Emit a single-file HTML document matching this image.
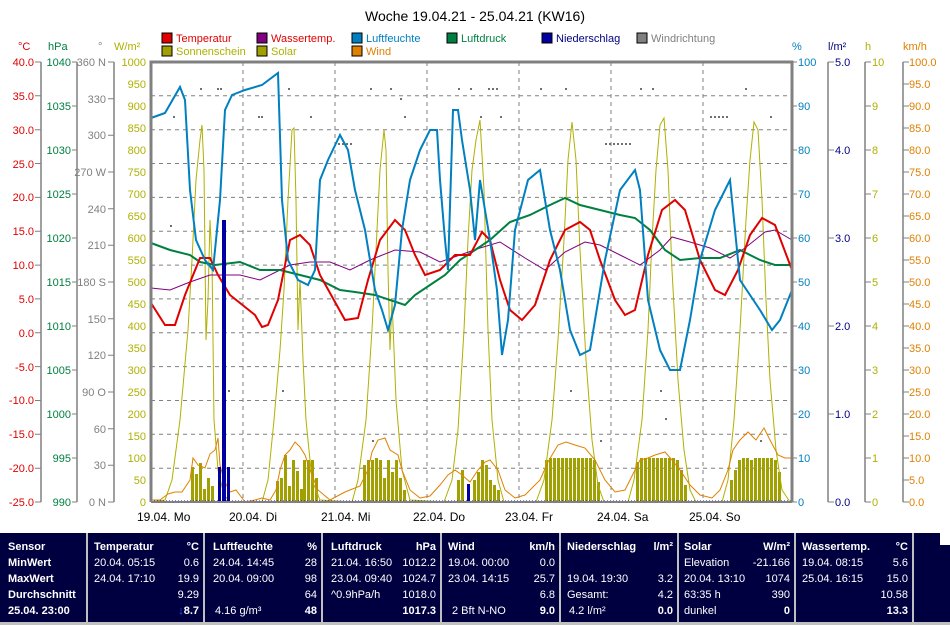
<!DOCTYPE html>
<html><head><meta charset="utf-8"><style>
body{margin:0;background:#fff;width:950px;height:625px;overflow:hidden;font-family:"Liberation Sans",sans-serif}
svg text{font-family:"Liberation Sans",sans-serif;font-size:11px}
.tb{position:absolute;left:0;top:533px;width:940px;height:89px;background:#000040;color:#fff;font-size:11px}
.col{position:absolute;top:0;height:89px;border-right:2px solid #c0c0c0}
.r{position:absolute;white-space:nowrap}
</style></head><body>
<svg width="950" height="533" style="position:absolute;left:0;top:0">
<text x="475" y="21" text-anchor="middle" style="font-size:14px" fill="#000">Woche 19.04.21 - 25.04.21 (KW16)</text>
<!-- legend -->
<g>
<rect x="162" y="33" width="10" height="10" fill="#e00000" stroke="#000"/><text x="176" y="42" fill="#e00000">Temperatur</text>
<rect x="257" y="33" width="10" height="10" fill="#800080" stroke="#000"/><text x="271" y="42" fill="#e00000">Wassertemp.</text>
<rect x="352" y="33" width="10" height="10" fill="#0080c0" stroke="#000"/><text x="366" y="42" fill="#0080c0">Luftfeuchte</text>
<rect x="447" y="33" width="10" height="10" fill="#008040" stroke="#000"/><text x="461" y="42" fill="#008040">Luftdruck</text>
<rect x="542" y="33" width="10" height="10" fill="#0000a0" stroke="#000"/><text x="556" y="42" fill="#000080">Niederschlag</text>
<rect x="637" y="33" width="10" height="10" fill="#808080" stroke="#000"/><text x="651" y="42" fill="#808080">Windrichtung</text>
<rect x="162" y="46" width="10" height="10" fill="#a0a000" stroke="#000"/><text x="176" y="55" fill="#b0b000">Sonnenschein</text>
<rect x="257" y="46" width="10" height="10" fill="#a0a000" stroke="#000"/><text x="271" y="55" fill="#b0b000">Solar</text>
<rect x="352" y="46" width="10" height="10" fill="#e08000" stroke="#000"/><text x="366" y="55" fill="#e08000">Wind</text>
</g>
<!-- units -->
<text x="18" y="50" fill="#e00000">°C</text><text x="48" y="50" fill="#008040">hPa</text><text x="98" y="50" fill="#808080">°</text><text x="114" y="50" fill="#b0b000">W/m²</text>
<text x="792" y="50" fill="#0080c0">%</text><text x="828" y="50" fill="#000080">l/m²</text><text x="865" y="50" fill="#b0b000">h</text><text x="903" y="50" fill="#e08000">km/h</text>
<!-- axis lines -->
<g stroke="#808080" stroke-width="1.5">
<line x1="41" y1="62" x2="41" y2="502"/><line x1="77" y1="62" x2="77" y2="502"/><line x1="114" y1="62" x2="114" y2="502"/>
<line x1="828" y1="62" x2="828" y2="502"/><line x1="865" y1="62" x2="865" y2="502"/><line x1="903" y1="62" x2="903" y2="502"/>
</g>
<!-- °C -->
<g fill="#e00000" text-anchor="end">
<text x="34" y="66">40.0</text><text x="34" y="100">35.0</text><text x="34" y="134">30.0</text><text x="34" y="168">25.0</text><text x="34" y="201">20.0</text><text x="34" y="235">15.0</text><text x="34" y="269">10.0</text><text x="34" y="303">5.0</text><text x="34" y="337">0.0</text><text x="34" y="371">-5.0</text><text x="34" y="404">-10.0</text><text x="34" y="438">-15.0</text><text x="34" y="472">-20.0</text><text x="34" y="506">-25.0</text>
</g>
<g stroke="#808080"><path d="M35 62h6M35 95.8h6M35 129.7h6M35 163.5h6M35 197.4h6M35 231.2h6M35 265.1h6M35 298.9h6M35 332.8h6M35 366.6h6M35 400.5h6M35 434.3h6M35 468.2h6M35 502h6"/></g>
<!-- hPa -->
<g fill="#008040" text-anchor="end">
<text x="71" y="66">1040</text><text x="71" y="110">1035</text><text x="71" y="154">1030</text><text x="71" y="198">1025</text><text x="71" y="242">1020</text><text x="71" y="286">1015</text><text x="71" y="330">1010</text><text x="71" y="374">1005</text><text x="71" y="418">1000</text><text x="71" y="462">995</text><text x="71" y="506">990</text>
</g>
<g stroke="#808080"><path d="M72 62h5M72 106h5M72 150h5M72 194h5M72 238h5M72 282h5M72 326h5M72 370h5M72 414h5M72 458h5M72 502h5"/></g>
<!-- degrees -->
<g fill="#808080" text-anchor="end">
<text x="106" y="66">360 N</text><text x="106" y="103">330</text><text x="106" y="139">300</text><text x="106" y="176">270 W</text><text x="106" y="213">240</text><text x="106" y="249">210</text><text x="106" y="286">180 S</text><text x="106" y="323">150</text><text x="106" y="359">120</text><text x="106" y="396">90 O</text><text x="106" y="433">60</text><text x="106" y="469">30</text><text x="106" y="506">0 N</text>
</g>
<g stroke="#808080"><path d="M108 62h6M108 98.7h6M108 135.3h6M108 172h6M108 208.7h6M108 245.3h6M108 282h6M108 318.7h6M108 355.3h6M108 392h6M108 428.7h6M108 465.3h6M108 502h6"/></g>
<!-- W/m2 -->
<g fill="#b0b000" text-anchor="end">
<text x="146" y="66">1000</text><text x="146" y="88">950</text><text x="146" y="110">900</text><text x="146" y="132">850</text><text x="146" y="154">800</text><text x="146" y="176">750</text><text x="146" y="198">700</text><text x="146" y="220">650</text><text x="146" y="242">600</text><text x="146" y="264">550</text><text x="146" y="286">500</text><text x="146" y="308">450</text><text x="146" y="330">400</text><text x="146" y="352">350</text><text x="146" y="374">300</text><text x="146" y="396">250</text><text x="146" y="418">200</text><text x="146" y="440">150</text><text x="146" y="462">100</text><text x="146" y="484">50</text><text x="146" y="506">0</text>
</g>
<!-- % -->
<g fill="#0080c0"><text x="798" y="66">100</text><text x="798" y="110">90</text><text x="798" y="154">80</text><text x="798" y="198">70</text><text x="798" y="242">60</text><text x="798" y="286">50</text><text x="798" y="330">40</text><text x="798" y="374">30</text><text x="798" y="418">20</text><text x="798" y="462">10</text><text x="798" y="506">0</text></g>
<g stroke="#808080"><path d="M792 62h5M792 106h5M792 150h5M792 194h5M792 238h5M792 282h5M792 326h5M792 370h5M792 414h5M792 458h5M792 502h5"/></g>
<!-- l/m2 -->
<g fill="#000080"><text x="835" y="66">5.0</text><text x="835" y="154">4.0</text><text x="835" y="242">3.0</text><text x="835" y="330">2.0</text><text x="835" y="418">1.0</text><text x="835" y="506">0.0</text></g>
<g stroke="#808080"><path d="M828 62h6M828 150h6M828 238h6M828 326h6M828 414h6M828 502h6"/></g>
<!-- h -->
<g fill="#b0b000"><text x="872" y="66">10</text><text x="872" y="110">9</text><text x="872" y="154">8</text><text x="872" y="198">7</text><text x="872" y="242">6</text><text x="872" y="286">5</text><text x="872" y="330">4</text><text x="872" y="374">3</text><text x="872" y="418">2</text><text x="872" y="462">1</text><text x="872" y="506">0</text></g>
<g stroke="#808080"><path d="M865 62h6M865 106h6M865 150h6M865 194h6M865 238h6M865 282h6M865 326h6M865 370h6M865 414h6M865 458h6M865 502h6"/></g>
<!-- km/h -->
<g fill="#e08000"><text x="909" y="66">100.0</text><text x="909" y="88">95.0</text><text x="909" y="110">90.0</text><text x="909" y="132">85.0</text><text x="909" y="154">80.0</text><text x="909" y="176">75.0</text><text x="909" y="198">70.0</text><text x="909" y="220">65.0</text><text x="909" y="242">60.0</text><text x="909" y="264">55.0</text><text x="909" y="286">50.0</text><text x="909" y="308">45.0</text><text x="909" y="330">40.0</text><text x="909" y="352">35.0</text><text x="909" y="374">30.0</text><text x="909" y="396">25.0</text><text x="909" y="418">20.0</text><text x="909" y="440">15.0</text><text x="909" y="462">10.0</text><text x="909" y="484">5.0</text><text x="909" y="506">0.0</text></g>
<g stroke="#808080"><path d="M903 62h6M903 84h6M903 106h6M903 128h6M903 150h6M903 172h6M903 194h6M903 216h6M903 238h6M903 260h6M903 282h6M903 304h6M903 326h6M903 348h6M903 370h6M903 392h6M903 414h6M903 436h6M903 458h6M903 480h6M903 502h6"/></g>
<!-- grid -->
<g stroke="#808080" stroke-dasharray="4,4">
<path d="M151 95.8H792M151 129.7H792M151 163.5H792M151 197.4H792M151 231.2H792M151 265.1H792M151 298.9H792M151 332.8H792M151 366.6H792M151 400.5H792M151 434.3H792M151 468.2H792"/>
<path d="M243 62V502M335 62V502M427 62V502M519 62V502M611 62V502M703 62V502"/>
</g>
<!-- wind direction dots -->
<g fill="#707070">
<rect x="173" y="116" width="2" height="2"/><rect x="200" y="88" width="2" height="2"/><rect x="217" y="88" width="2" height="2"/><rect x="220" y="88" width="2" height="2"/><rect x="258" y="116" width="2" height="2"/><rect x="261" y="116" width="2" height="2"/><rect x="288" y="88" width="2" height="2"/><rect x="310" y="116" width="2" height="2"/><rect x="338" y="143" width="2" height="2"/><rect x="342" y="143" width="2" height="2"/><rect x="346" y="143" width="2" height="2"/><rect x="350" y="143" width="2" height="2"/><rect x="370" y="88" width="2" height="2"/><rect x="390" y="88" width="2" height="2"/><rect x="400" y="98" width="2" height="2"/><rect x="404" y="116" width="2" height="2"/><rect x="458" y="88" width="2" height="2"/><rect x="470" y="88" width="2" height="2"/><rect x="480" y="116" width="2" height="2"/><rect x="488" y="88" width="2" height="2"/><rect x="492" y="88" width="2" height="2"/><rect x="496" y="88" width="2" height="2"/><rect x="500" y="116" width="2" height="2"/><rect x="540" y="88" width="2" height="2"/><rect x="565" y="88" width="2" height="2"/><rect x="605" y="143" width="2" height="2"/><rect x="609" y="143" width="2" height="2"/><rect x="613" y="143" width="2" height="2"/><rect x="617" y="143" width="2" height="2"/><rect x="621" y="143" width="2" height="2"/><rect x="625" y="143" width="2" height="2"/><rect x="629" y="143" width="2" height="2"/><rect x="640" y="88" width="2" height="2"/><rect x="652" y="88" width="2" height="2"/><rect x="710" y="116" width="2" height="2"/><rect x="714" y="116" width="2" height="2"/><rect x="718" y="116" width="2" height="2"/><rect x="722" y="116" width="2" height="2"/><rect x="726" y="116" width="2" height="2"/><rect x="745" y="88" width="2" height="2"/><rect x="770" y="116" width="2" height="2"/>
<rect x="170" y="225" width="2" height="2"/><rect x="282" y="390" width="2" height="2"/><rect x="228" y="390" width="2" height="2"/><rect x="660" y="390" width="2" height="2"/><rect x="665" y="418" width="2" height="2"/><rect x="570" y="390" width="2" height="2"/><rect x="600" y="440" width="2" height="2"/><rect x="372" y="440" width="2" height="2"/><rect x="760" y="440" width="2" height="2"/>
</g>
<!-- sunshine bars -->
<g fill="#a0a000">
<rect x="191" y="467" width="3" height="35"/><rect x="195" y="474" width="3" height="28"/><rect x="199" y="463" width="3" height="39"/><rect x="203" y="489" width="3" height="13"/><rect x="207" y="478" width="3" height="24"/><rect x="211" y="486" width="3" height="16"/>
<rect x="276" y="481" width="3" height="21"/><rect x="280" y="478" width="3" height="24"/><rect x="284" y="455" width="3" height="47"/><rect x="288" y="486" width="3" height="16"/><rect x="292" y="460" width="3" height="42"/><rect x="296" y="471" width="3" height="31"/><rect x="300" y="489" width="3" height="13"/><rect x="303" y="460" width="3" height="42"/><rect x="307" y="460" width="3" height="42"/><rect x="311" y="460" width="3" height="42"/><rect x="315" y="478" width="3" height="24"/>
<rect x="363" y="465" width="3" height="37"/><rect x="367" y="460" width="3" height="42"/><rect x="371" y="460" width="3" height="42"/><rect x="375" y="458" width="3" height="44"/><rect x="379" y="460" width="3" height="42"/><rect x="383" y="478" width="3" height="24"/><rect x="387" y="460" width="3" height="42"/><rect x="391" y="472" width="3" height="30"/><rect x="395" y="460" width="3" height="42"/><rect x="399" y="478" width="3" height="24"/><rect x="403" y="490" width="3" height="12"/>
<rect x="457" y="480" width="3" height="22"/><rect x="461" y="470" width="3" height="32"/><rect x="473" y="480" width="3" height="22"/><rect x="477" y="472" width="3" height="30"/><rect x="481" y="460" width="3" height="42"/><rect x="485" y="465" width="3" height="37"/><rect x="489" y="480" width="3" height="22"/><rect x="493" y="485" width="3" height="17"/><rect x="497" y="490" width="3" height="12"/>
<rect x="545" y="460" width="3" height="42"/><rect x="549" y="458" width="3" height="44"/><rect x="553" y="458" width="3" height="44"/><rect x="557" y="458" width="3" height="44"/><rect x="561" y="458" width="3" height="44"/><rect x="565" y="458" width="3" height="44"/><rect x="569" y="458" width="3" height="44"/><rect x="573" y="458" width="3" height="44"/><rect x="577" y="458" width="3" height="44"/><rect x="581" y="458" width="3" height="44"/><rect x="585" y="458" width="3" height="44"/><rect x="589" y="458" width="3" height="44"/><rect x="593" y="460" width="3" height="42"/><rect x="597" y="482" width="3" height="20"/>
<rect x="636" y="462" width="3" height="40"/><rect x="640" y="458" width="3" height="44"/><rect x="644" y="458" width="3" height="44"/><rect x="648" y="458" width="3" height="44"/><rect x="652" y="458" width="3" height="44"/><rect x="656" y="458" width="3" height="44"/><rect x="660" y="458" width="3" height="44"/><rect x="664" y="458" width="3" height="44"/><rect x="668" y="458" width="3" height="44"/><rect x="672" y="458" width="3" height="44"/><rect x="676" y="460" width="3" height="42"/><rect x="680" y="470" width="3" height="32"/><rect x="684" y="485" width="3" height="17"/>
<rect x="730" y="480" width="3" height="22"/><rect x="734" y="470" width="3" height="32"/><rect x="738" y="460" width="3" height="42"/><rect x="742" y="458" width="3" height="44"/><rect x="746" y="458" width="3" height="44"/><rect x="750" y="460" width="3" height="42"/><rect x="754" y="458" width="3" height="44"/><rect x="758" y="458" width="3" height="44"/><rect x="762" y="458" width="3" height="44"/><rect x="766" y="458" width="3" height="44"/><rect x="770" y="458" width="3" height="44"/><rect x="774" y="460" width="3" height="42"/><rect x="778" y="472" width="3" height="30"/>
</g>
<!-- solar -->
<polyline fill="none" stroke="#b0b000" stroke-width="1" points="151,502 165,500 172,480 180,420 188,330 192,260 196,180 200,140 202,125 204,170 206,340 208,300 210,220 212,260 214,420 218,470 224,495 230,502 262,502 268,480 274,420 280,350 284,290 288,200 292,130 294,128 296,200 298,330 300,280 303,360 306,420 312,480 320,500 352,502 358,480 366,420 372,330 376,250 380,170 384,130 386,150 388,270 390,350 392,300 396,400 402,470 410,500 444,502 452,480 458,430 464,330 468,240 472,170 476,140 480,120 484,190 488,330 492,420 498,480 504,502 536,502 544,480 552,420 558,340 564,240 568,160 572,122 576,160 580,250 586,360 592,440 598,485 604,502 628,502 634,480 642,420 648,330 652,240 656,170 660,125 664,118 668,170 672,270 678,380 684,450 690,490 696,502 722,502 728,480 734,420 740,330 746,220 750,160 754,122 758,130 762,200 766,300 770,380 776,450 782,490 790,502"/>
<!-- wind -->
<polyline fill="none" stroke="#e08000" stroke-width="1" points="151,500 160,500 168,494 175,492 182,492 190,480 193,458 198,465 205,468 210,454 215,450 218,438 220,465 224,480 230,492 236,490 245,502 255,500 262,498 270,500 276,490 280,470 285,455 290,450 295,442 300,447 305,455 310,470 318,490 330,500 345,492 360,486 368,470 372,452 378,440 385,438 390,450 398,455 402,470 410,490 420,498 430,496 440,485 448,475 455,470 462,475 470,482 478,470 485,462 490,460 498,470 505,490 515,498 525,495 540,480 548,462 552,455 558,445 566,442 575,445 585,448 595,460 605,480 615,492 625,490 635,470 640,460 648,458 655,455 665,452 672,460 680,470 690,485 700,495 712,498 720,490 728,470 733,450 740,440 748,432 756,440 764,428 770,440 778,455 785,458 792,458"/>
<!-- water temp -->
<polyline fill="none" stroke="#800080" stroke-width="1" points="151,288 170,290 190,282 210,275 240,275 260,280 290,265 310,262 330,262 350,270 370,260 395,250 420,252 440,262 460,255 480,248 500,242 525,258 545,270 565,252 585,242 600,245 620,255 640,265 660,250 672,237 690,242 710,248 730,258 745,248 765,232 775,230 792,240"/>
<!-- pressure -->
<polyline fill="none" stroke="#008040" stroke-width="2" points="151,243 170,250 190,255 200,262 215,265 240,262 260,270 280,270 300,275 320,280 340,290 355,292 375,295 390,300 405,305 415,295 430,285 445,275 460,260 475,250 490,240 510,222 530,215 550,205 565,198 580,205 600,210 620,215 635,218 650,230 665,250 680,260 700,258 720,258 740,250 760,260 775,265 792,265"/>
<!-- temperature -->
<polyline fill="none" stroke="#e00000" stroke-width="2" points="151,303 165,325 175,325 185,295 200,258 210,258 218,275 230,295 255,315 262,327 268,325 278,300 290,240 300,235 310,245 320,275 345,320 358,318 368,280 380,240 395,220 405,230 415,255 425,275 440,270 455,255 470,255 482,232 490,240 500,280 510,310 522,320 535,305 550,260 565,230 580,222 590,230 600,260 615,300 625,315 635,310 648,255 662,210 675,200 685,210 700,260 715,290 725,295 738,270 750,235 762,218 775,225 792,270"/>
<!-- humidity -->
<polyline fill="none" stroke="#0080c0" stroke-width="2" points="151,118 165,113 180,87 185,100 190,190 196,240 205,260 213,270 220,200 225,110 232,95 245,90 262,85 278,73 282,200 288,260 298,280 308,285 315,270 320,180 328,160 340,135 348,150 355,190 365,230 375,290 382,310 388,330 395,305 402,230 410,180 420,150 430,130 437,130 440,180 445,240 448,270 453,110 458,110 462,140 470,190 475,240 480,180 490,240 497,290 502,355 508,320 515,230 528,180 540,170 545,200 550,230 560,270 570,330 580,355 590,350 595,320 605,260 620,190 635,170 640,190 648,300 660,350 670,370 680,370 690,320 700,260 715,210 730,180 740,280 760,310 772,330 780,320 792,290"/>
<!-- rain -->
<g fill="#0000a0">
<rect x="218" y="467" width="3" height="35"/><rect x="222" y="220" width="4" height="282"/><rect x="227" y="467" width="3" height="35"/><rect x="467" y="484" width="3" height="18"/>
</g>
<line x1="151" y1="501" x2="792" y2="501" stroke="#0000a0" stroke-dasharray="1,2"/>
<!-- border -->
<path d="M151 502V62H792V502" fill="none" stroke="#808080" stroke-width="3"/>
<line x1="151" y1="502" x2="792" y2="502" stroke="#808080" stroke-width="2"/>
<!-- x labels -->
<g fill="#000" style="font-size:12px">
<text x="137" y="521" style="font-size:12px">19.04.  Mo</text><text x="229" y="521" style="font-size:12px">20.04.  Di</text><text x="321" y="521" style="font-size:12px">21.04.  Mi</text><text x="413" y="521" style="font-size:12px">22.04.  Do</text><text x="505" y="521" style="font-size:12px">23.04.  Fr</text><text x="597" y="521" style="font-size:12px">24.04.  Sa</text><text x="689" y="521" style="font-size:12px">25.04.  So</text>
</g>
</svg>
<div style="position:absolute;left:0;top:622px;width:950px;height:3px;background:#c0c0c0"></div>
<div class="tb">
<div class="col" style="left:0;width:86px"><b class="r" style="left:8px;top:8px">Sensor</b><b class="r" style="left:8px;top:24px">MinWert</b><b class="r" style="left:8px;top:40px">MaxWert</b><b class="r" style="left:8px;top:56px">Durchschnitt</b><b class="r" style="left:8px;top:72px">25.04. 23:00</b></div>
<div class="col" style="left:88px;width:115px"><b class="r" style="left:6px;top:8px">Temperatur</b><b class="r" style="right:4px;top:8px">°C</b><span class="r" style="left:6px;top:24px">20.04. 05:15</span><span class="r" style="right:4px;top:24px">0.6</span><span class="r" style="left:6px;top:40px">24.04. 17:10</span><span class="r" style="right:4px;top:40px">19.9</span><span class="r" style="right:4px;top:56px">9.29</span><b class="r" style="right:4px;top:72px"><span style="color:#2060ff">↓</span>8.7</b></div>
<div class="col" style="left:205px;width:116px"><b class="r" style="left:8px;top:8px">Luftfeuchte</b><b class="r" style="right:4px;top:8px">%</b><span class="r" style="left:8px;top:24px">24.04. 14:45</span><span class="r" style="right:4px;top:24px">28</span><span class="r" style="left:8px;top:40px">20.04. 09:00</span><span class="r" style="right:4px;top:40px">98</span><span class="r" style="right:4px;top:56px">64</span><span class="r" style="left:10px;top:72px">4.16 g/m³</span><b class="r" style="right:4px;top:72px">48</b></div>
<div class="col" style="left:323px;width:117px"><b class="r" style="left:8px;top:8px">Luftdruck</b><b class="r" style="right:4px;top:8px">hPa</b><span class="r" style="left:8px;top:24px">21.04. 16:50</span><span class="r" style="right:4px;top:24px">1012.2</span><span class="r" style="left:8px;top:40px">23.04. 09:40</span><span class="r" style="right:4px;top:40px">1024.7</span><span class="r" style="left:8px;top:56px">^0.9hPa/h</span><span class="r" style="right:4px;top:56px">1018.0</span><b class="r" style="right:4px;top:72px">1017.3</b></div>
<div class="col" style="left:442px;width:117px"><b class="r" style="left:6px;top:8px">Wind</b><b class="r" style="right:4px;top:8px">km/h</b><span class="r" style="left:6px;top:24px">19.04. 00:00</span><span class="r" style="right:4px;top:24px">0.0</span><span class="r" style="left:6px;top:40px">23.04. 14:15</span><span class="r" style="right:4px;top:40px">25.7</span><span class="r" style="right:4px;top:56px">6.8</span><span class="r" style="left:10px;top:72px">2 Bft N-NO</span><b class="r" style="right:4px;top:72px">9.0</b></div>
<div class="col" style="left:561px;width:116px"><b class="r" style="left:6px;top:8px">Niederschlag</b><b class="r" style="right:4px;top:8px">l/m²</b><span class="r" style="left:6px;top:40px">19.04. 19:30</span><span class="r" style="right:4px;top:40px">3.2</span><span class="r" style="left:6px;top:56px">Gesamt:</span><span class="r" style="right:4px;top:56px">4.2</span><span class="r" style="left:8px;top:72px">4.2 l/m²</span><b class="r" style="right:4px;top:72px">0.0</b></div>
<div class="col" style="left:679px;width:115px"><b class="r" style="left:5px;top:8px">Solar</b><b class="r" style="right:4px;top:8px">W/m²</b><span class="r" style="left:5px;top:24px">Elevation</span><span class="r" style="right:4px;top:24px">-21.166</span><span class="r" style="left:5px;top:40px">20.04. 13:10</span><span class="r" style="right:4px;top:40px">1074</span><span class="r" style="left:5px;top:56px">63:35 h</span><span class="r" style="right:4px;top:56px">390</span><span class="r" style="left:5px;top:72px">dunkel</span><b class="r" style="right:4px;top:72px">0</b></div>
<div class="col" style="left:796px;width:116px"><b class="r" style="left:6px;top:8px">Wassertemp.</b><b class="r" style="right:4px;top:8px">°C</b><span class="r" style="left:6px;top:24px">19.04. 08:15</span><span class="r" style="right:4px;top:24px">5.6</span><span class="r" style="left:6px;top:40px">25.04. 16:15</span><span class="r" style="right:4px;top:40px">15.0</span><span class="r" style="right:4px;top:56px">10.58</span><b class="r" style="right:4px;top:72px">13.3</b></div>
</div>
<div style="position:absolute;left:940px;top:545px;width:10px;height:77px;background:#000040"></div>
</body></html>
